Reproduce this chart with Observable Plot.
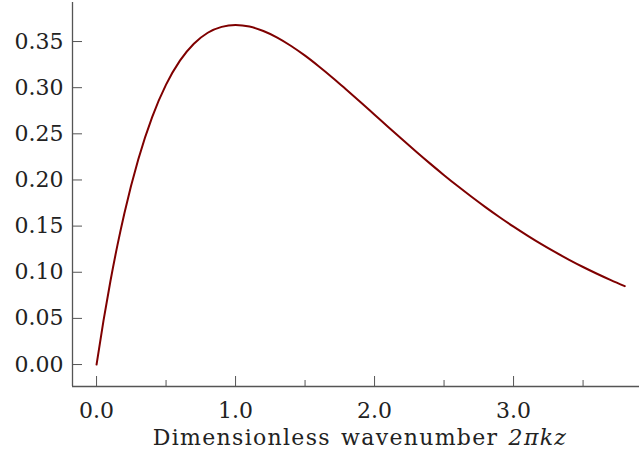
<!DOCTYPE html>
<html>
<head>
<meta charset="utf-8">
<script src="https://cdn.jsdelivr.net/npm/d3@7"></script>
<script src="https://cdn.jsdelivr.net/npm/@observablehq/plot@0.6"></script>
<style>
  html, body { margin: 0; padding: 0; background: #fff; }
</style>
</head>
<body>
<div id="chart"></div>
<script>
// Curve (x = dimensionless wavenumber, y = response)
const xs = [0.0, 0.05, 0.1, 0.15, 0.2, 0.3, 0.4, 0.5, 0.6, 0.7, 0.8, 0.9, 1.0, 1.1, 1.2, 1.3, 1.4, 1.5, 1.6, 1.7, 1.8, 1.9, 2.0, 2.1, 2.2, 2.3, 2.4, 2.5, 2.6, 2.7, 2.8, 2.9, 3.0, 3.1, 3.2, 3.3, 3.4, 3.5, 3.6, 3.7, 3.8];
const ys = [0.0, 0.0476, 0.0905, 0.1291, 0.1637, 0.2222, 0.2681, 0.3033, 0.3293, 0.3476, 0.3595, 0.3659, 0.3679, 0.3662, 0.3614, 0.3543, 0.3452, 0.3347, 0.3230, 0.3106, 0.2975, 0.2842, 0.2707, 0.2572, 0.2438, 0.2306, 0.2177, 0.2052, 0.1931, 0.1815, 0.1703, 0.1596, 0.1494, 0.1397, 0.1304, 0.1217, 0.1135, 0.1057, 0.0984, 0.0915, 0.0850];

const xTicksMajor = [0, 1, 2, 3];
const xTicksMinor = [0.5, 1.5, 2.5, 3.5];
const yTicks = [0, 0.05, 0.10, 0.15, 0.20, 0.25, 0.30, 0.35];
const xLabelPlain = "Dimensionless wavenumber ";
const xLabelItalic = "2πkz";

const xDomain = [-0.173, 3.906];
const yDomain = [-0.0238, 0.3923];

const data = xs.map((x, i) => ({x, y: ys[i]}));

const axisColor = "#555";
const textColor = "#222";

const chart = Plot.plot({
  width: 639,
  height: 457,
  marginLeft: 72,
  marginRight: 0,
  marginTop: 2,
  marginBottom: 71,
  style: {fontFamily: "DejaVu Serif", fontSize: "22px", color: textColor, background: "#fff"},
  x: {domain: xDomain},
  y: {domain: yDomain},
  marks: [
    Plot.ruleX([xDomain[0]], {stroke: axisColor, strokeWidth: 1.3}),
    Plot.ruleY([yDomain[0]], {stroke: axisColor, strokeWidth: 1.3}),
    Plot.axisY({ticks: yTicks, tickSize: -10, tickPadding: 19, tickFormat: d3.format(".2f"), stroke: axisColor, fill: textColor, fontSize: 22, label: null}),
    Plot.axisX({ticks: xTicksMajor, tickSize: -10, tickPadding: 26, tickFormat: d3.format(".1f"), stroke: axisColor, fill: textColor, fontSize: 22, label: null}),
    Plot.axisX({ticks: xTicksMinor, tickSize: -6, text: null, stroke: axisColor, label: null}),
    Plot.line(data, {x: "x", y: "y", stroke: "#7f0000", strokeWidth: 2, curve: "monotone-x"}),
    Plot.text([xLabelPlain + xLabelItalic], {frameAnchor: "bottom", dy: 58, dx: 4, text: d => d, fill: textColor, fontSize: 22, className: "xlabel"})
  ]
});

document.getElementById("chart").appendChild(chart);

// Set the italic part of the x label
const lbl = d3.select(chart).select("g.xlabel text");
if (!lbl.empty()) {
  lbl.text(null).attr("letter-spacing", "1.3px").attr("word-spacing", "2px");
  lbl.append("tspan").text(xLabelPlain);
  lbl.append("tspan").attr("font-style", "italic").text(xLabelItalic);
}
</script>
</body>
</html>
